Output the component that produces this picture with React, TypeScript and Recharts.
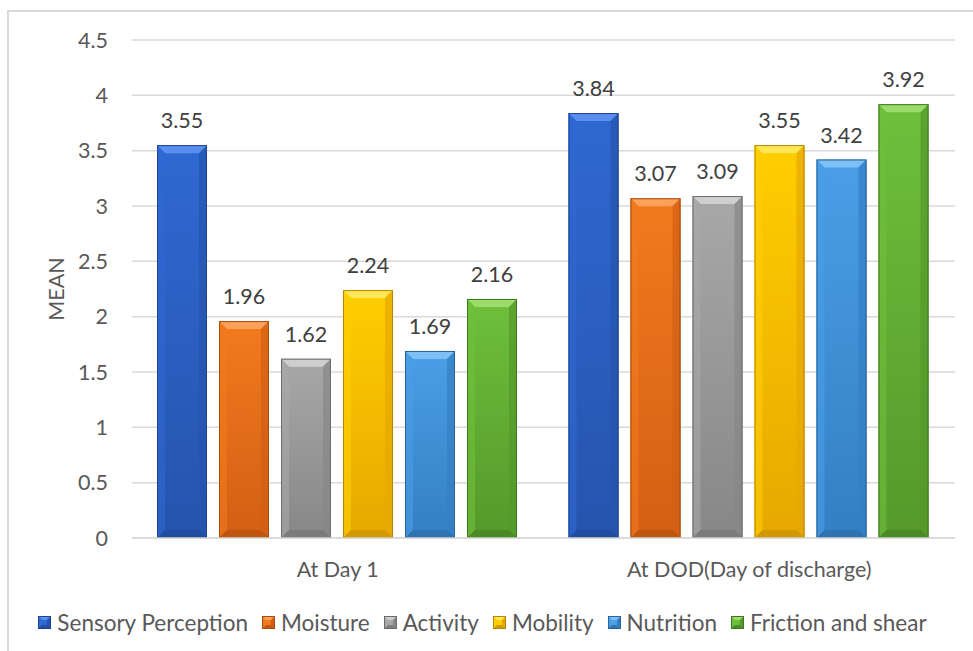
import React from 'react';
import { BarChart, Bar, XAxis, YAxis, CartesianGrid, Legend, LabelList } from 'recharts';

const categories = ['At Day 1', 'At DOD(Day of discharge)'];
const sensory = [3.55, 3.84];
const moisture = [1.96, 3.07];
const activity = [1.62, 3.09];
const mobility = [2.24, 3.55];
const nutrition = [1.69, 3.42];
const friction = [2.16, 3.92];
const yTicks = [0, 0.5, 1, 1.5, 2, 2.5, 3, 3.5, 4, 4.5];

type Pal = { light: string; base: string; dark: string; edge: string };

const series: { key: string; name: string; values: number[]; pal: Pal }[] = [
  { key: 'sensory', name: 'Sensory Perception', values: sensory, pal: { light: '#5a8ef0', base: '#3068d2', dark: '#2554ad', edge: '#1d4490' } },
  { key: 'moisture', name: 'Moisture', values: moisture, pal: { light: '#fba25a', base: '#f27a1e', dark: '#d25f14', edge: '#a84a0c' } },
  { key: 'activity', name: 'Activity', values: activity, pal: { light: '#cfcfcf', base: '#a8a8a8', dark: '#878787', edge: '#6c6c6c' } },
  { key: 'mobility', name: 'Mobility', values: mobility, pal: { light: '#ffe654', base: '#ffce00', dark: '#e6a800', edge: '#b88600' } },
  { key: 'nutrition', name: 'Nutrition', values: nutrition, pal: { light: '#7cc0f6', base: '#4a9fe6', dark: '#347fc4', edge: '#27649c' } },
  { key: 'friction', name: 'Friction and shear', values: friction, pal: { light: '#9bdc6c', base: '#6fbf3c', dark: '#54992a', edge: '#3e781e' } },
];

const data = categories.map((cat, i) => {
  const row: Record<string, string | number> = { cat };
  series.forEach((s) => (row[s.key] = s.values[i]));
  return row;
});

const FONT = 'Lato, "Open Sans", sans-serif';
const GRID = '#d9d9d9';
const TEXT = '#595959';
const FS = 21.5;

// Excel style bevelled bar
const BevelBar = (props: any) => {
  const { x, y, width: w, height: h, pal, id } = props;
  if (!h || h <= 0) return null;
  const b = Math.min(8, w / 4, h / 2);
  const gid = `grad-${id}`;
  return (
    <g>
      <defs>
        <linearGradient id={gid} x1="0" y1="0" x2="0" y2="1">
          <stop offset="0%" stopColor={pal.base} />
          <stop offset="100%" stopColor={pal.dark} />
        </linearGradient>
      </defs>
      <rect x={x} y={y} width={w} height={h} fill={`url(#${gid})`} />
      <polygon points={`${x},${y} ${x + w},${y} ${x + w - b},${y + b} ${x + b},${y + b}`} fill={pal.light} />
      <polygon points={`${x},${y} ${x + b},${y + b} ${x + b},${y + h - b} ${x},${y + h}`} fill={pal.base} opacity={0.6} />
      <polygon points={`${x + w},${y} ${x + w - b},${y + b} ${x + w - b},${y + h - b} ${x + w},${y + h}`} fill={pal.dark} opacity={0.7} />
      <polygon points={`${x},${y + h} ${x + b},${y + h - b} ${x + w - b},${y + h - b} ${x + w},${y + h}`} fill={pal.edge} opacity={0.45} />
      <rect x={x + 0.5} y={y + 0.5} width={w - 1} height={h - 1} fill="none" stroke={pal.edge} strokeWidth={1} />
    </g>
  );
};

const LegendIcon = ({ pal }: { pal: Pal }) => (
  <svg width={13} height={13} style={{ marginRight: 6 }}>
    <rect x={0} y={0} width={13} height={13} fill={pal.base} />
    <polygon points="0,0 13,0 9,4 4,4" fill={pal.light} />
    <polygon points="13,0 13,13 9,9 9,4" fill={pal.dark} />
    <polygon points="0,13 13,13 9,9 4,9" fill={pal.edge} opacity={0.7} />
    <rect x={0.5} y={0.5} width={12} height={12} fill="none" stroke={pal.edge} />
  </svg>
);

const renderLegend = () => (
  <div style={{ display: 'flex', justifyContent: 'center', alignItems: 'center', height: 30, fontFamily: FONT, fontSize: 22.5, color: TEXT, paddingLeft: 10 }}>
    {series.map((s, i) => (
      <div key={s.key} style={{ display: 'flex', alignItems: 'center', marginRight: i === series.length - 1 ? 0 : 14 }}>
        <LegendIcon pal={s.pal} />
        <span>{s.name}</span>
      </div>
    ))}
  </div>
);

const MeanLabel = (props: any) => {
  const vb = props.viewBox || {};
  const cx = (vb.x || 0) + 56;
  const cy = (vb.y || 0) + (vb.height || 0) / 2;
  return (
    <text x={cx} y={cy} transform={`rotate(-90, ${cx}, ${cy})`} textAnchor="middle" dominantBaseline="central" fill={TEXT} fontSize={FS} fontFamily={FONT}>
      MEAN
    </text>
  );
};

export default function App() {
  return (
    <div style={{ position: 'absolute', left: 0, top: 0, width: 973, height: 651, background: '#fff' }}>
      <div style={{ position: 'absolute', left: 7, top: 10, right: 0, bottom: 0, borderTop: `2px solid ${GRID}`, borderLeft: `2px solid ${GRID}` }} />
      <BarChart
        width={973}
        height={651}
        data={data}
        margin={{ top: 40, right: 18, left: 0, bottom: 14 }}
        barCategoryGap={25}
        barGap={12}
        style={{ position: 'absolute', left: 0, top: 0 }}
      >
        <CartesianGrid vertical={false} stroke={GRID} strokeWidth={1.5} />
        <XAxis
          dataKey="cat"
          height={69}
          axisLine={{ stroke: GRID, strokeWidth: 1.5 }}
          tickLine={false}
          tickMargin={18}
          tick={{ fill: TEXT, fontSize: FS, fontFamily: FONT }}
        />
        <YAxis
          width={132}
          domain={[0, 4.5]}
          ticks={yTicks}
          axisLine={false}
          tickLine={false}
          tickMargin={18}
          tick={{ fill: TEXT, fontSize: FS, fontFamily: FONT }}
          label={{ content: MeanLabel }}
        />
        <Legend verticalAlign="bottom" height={30} content={renderLegend} />
        {series.map((s) => (
          <Bar
            key={s.key}
            dataKey={s.key}
            name={s.name}
            fill={s.pal.base}
            isAnimationActive={false}
            shape={(p: any) => <BevelBar {...p} pal={s.pal} id={`${s.key}-${p.index}`} />}
          >
            <LabelList dataKey={s.key} position="top" offset={17} fill="#404040" fontSize={FS} fontFamily={FONT} />
          </Bar>
        ))}
      </BarChart>
    </div>
  );
}
